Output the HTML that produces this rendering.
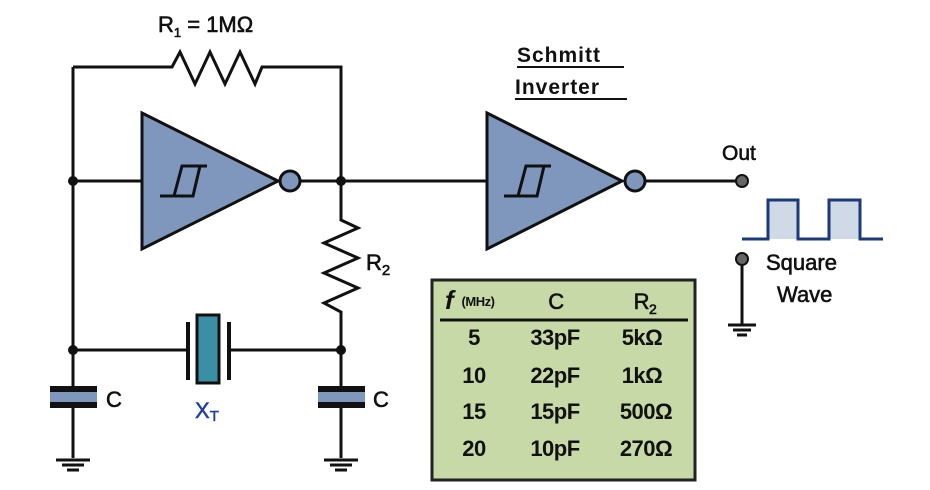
<!DOCTYPE html>
<html><head><style>
body{margin:0;background:#fff;}
svg text{font-family:"Liberation Sans",Arial,sans-serif;}
</style></head><body>
<svg width="930" height="485" viewBox="0 0 930 485" xmlns="http://www.w3.org/2000/svg">
<g fill="none" stroke="#111" stroke-width="3">
<polyline points="73,67 73,388"/>
<polyline points="73,408 73,458"/>
<polyline points="73,67 172,67 180,52 195,84 210,52 225,84 240,52 255,84 262,67 341,67 341,220 358,228 324,243 358,258 324,273 358,288 324,303 341,312 341,388"/>
<polyline points="341,408 341,458"/>
<line x1="73" y1="181" x2="142" y2="181"/>
<line x1="300" y1="181" x2="487" y2="181"/>
<line x1="645" y1="181" x2="742" y2="181"/>
<line x1="73" y1="350" x2="186" y2="350"/>
<line x1="231" y1="350" x2="341" y2="350"/>
<line x1="188" y1="322" x2="188" y2="380" stroke-width="4"/>
<line x1="229" y1="322" x2="229" y2="380" stroke-width="4"/>
<line x1="742" y1="259" x2="742" y2="325"/>
</g>
<rect x="197" y="315" width="22" height="68" fill="#3a8fa5" stroke="#111" stroke-width="3"/>
<g>
<rect x="50" y="386" width="47" height="22" fill="#7f97bd"/>
<rect x="50" y="386" width="47" height="6" fill="#111"/>
<rect x="50" y="402" width="47" height="6" fill="#111"/>
<rect x="318" y="386" width="47" height="22" fill="#7f97bd"/>
<rect x="318" y="386" width="47" height="6" fill="#111"/>
<rect x="318" y="402" width="47" height="6" fill="#111"/>
</g>
<g stroke="#111" stroke-width="3">
<line x1="56" y1="460" x2="90" y2="460"/><line x1="62" y1="465" x2="84" y2="465"/><line x1="67" y1="470" x2="79" y2="470"/>
<line x1="324" y1="460" x2="358" y2="460"/><line x1="330" y1="465" x2="352" y2="465"/><line x1="335" y1="470" x2="347" y2="470"/>
<line x1="728" y1="325" x2="756" y2="325"/><line x1="733" y1="330" x2="751" y2="330"/><line x1="737" y1="335" x2="747" y2="335"/>
</g>
<g stroke="#111" stroke-width="3" fill="#7f97bd">
<polygon points="142,113 278,181 142,249"/>
<circle cx="290" cy="181" r="10"/>
<polygon points="487,113 622,181 487,249"/>
<circle cx="635" cy="181" r="10"/>
</g>
<g fill="none" stroke="#111" stroke-width="3">
<polyline points="160,196 174,196 182,166 207,166"/>
<polyline points="174,196 193,196 200,166"/>
<polyline points="504,196 518,196 526,166 551,166"/>
<polyline points="518,196 537,196 544,166"/>
</g>
<g fill="#111">
<circle cx="73" cy="181" r="5"/><circle cx="341" cy="181" r="5"/>
<circle cx="73" cy="350" r="5"/><circle cx="341" cy="350" r="5"/>
</g>
<circle cx="742" cy="181" r="6" fill="#666" stroke="#111" stroke-width="2"/>
<circle cx="742" cy="259" r="6" fill="#666" stroke="#111" stroke-width="2"/>
<rect x="768" y="200" width="30" height="39" fill="#d0dae6"/>
<rect x="829" y="200" width="31" height="39" fill="#d0dae6"/>
<polyline points="742,239 768,239 768,200 798,200 798,239 829,239 829,200 860,200 860,239 883,239" fill="none" stroke="#1c3a7a" stroke-width="3"/>
<g fill="#111" font-size="22" stroke="#111" stroke-width="0.6">
<text x="158" y="32">R<tspan font-size="13" dy="5">1</tspan><tspan dy="-5"> = 1MΩ</tspan></text>
<text x="366" y="270">R<tspan font-size="15" dy="5">2</tspan></text>
<text x="106" y="407">C</text>
<text x="373" y="407">C</text>
<text x="722" y="160" font-size="21">Out</text>
<text x="766" y="270" font-size="22">Square</text>
<text x="777" y="302" font-size="22">Wave</text>
</g>
<g fill="#111">
<text x="517" y="62" font-size="21" font-weight="bold" letter-spacing="1">Schmitt</text>
<text x="515" y="94" font-size="21" font-weight="bold" letter-spacing="1">Inverter</text>
</g>
<line x1="517" y1="67" x2="624" y2="67" stroke="#111" stroke-width="2"/>
<line x1="515" y1="99" x2="627" y2="99" stroke="#111" stroke-width="2"/>
<text x="195" y="418" fill="#1f3fa0" font-size="22" stroke="#1f3fa0" stroke-width="0.5">X<tspan font-size="15" dy="3">T</tspan></text>
<rect x="432" y="280" width="263" height="200" fill="#c8d9a8" stroke="#222" stroke-width="3"/>
<line x1="440" y1="320" x2="688" y2="320" stroke="#111" stroke-width="3"/>
<g fill="#111" font-size="22" text-anchor="middle" font-weight="bold" letter-spacing="-0.5">
<text x="445" y="309" text-anchor="start" font-style="italic" font-family="Liberation Serif" font-size="26">f</text>
<text x="478" y="306" font-size="13">(MHz)</text>
<text x="556" y="309" font-weight="normal" stroke="#111" stroke-width="0.6">C</text>
<text x="645" y="309" font-weight="normal" stroke="#111" stroke-width="0.6">R<tspan font-size="14" dy="5">2</tspan></text>
<text x="474" y="345">5</text><text x="555" y="345">33pF</text><text x="642" y="345">5kΩ</text>
<text x="474" y="383">10</text><text x="555" y="383">22pF</text><text x="642" y="383">1kΩ</text>
<text x="474" y="419">15</text><text x="555" y="419">15pF</text><text x="646" y="419">500Ω</text>
<text x="474" y="456">20</text><text x="555" y="456">10pF</text><text x="646" y="456">270Ω</text>
</g>
</svg>
</body></html>
